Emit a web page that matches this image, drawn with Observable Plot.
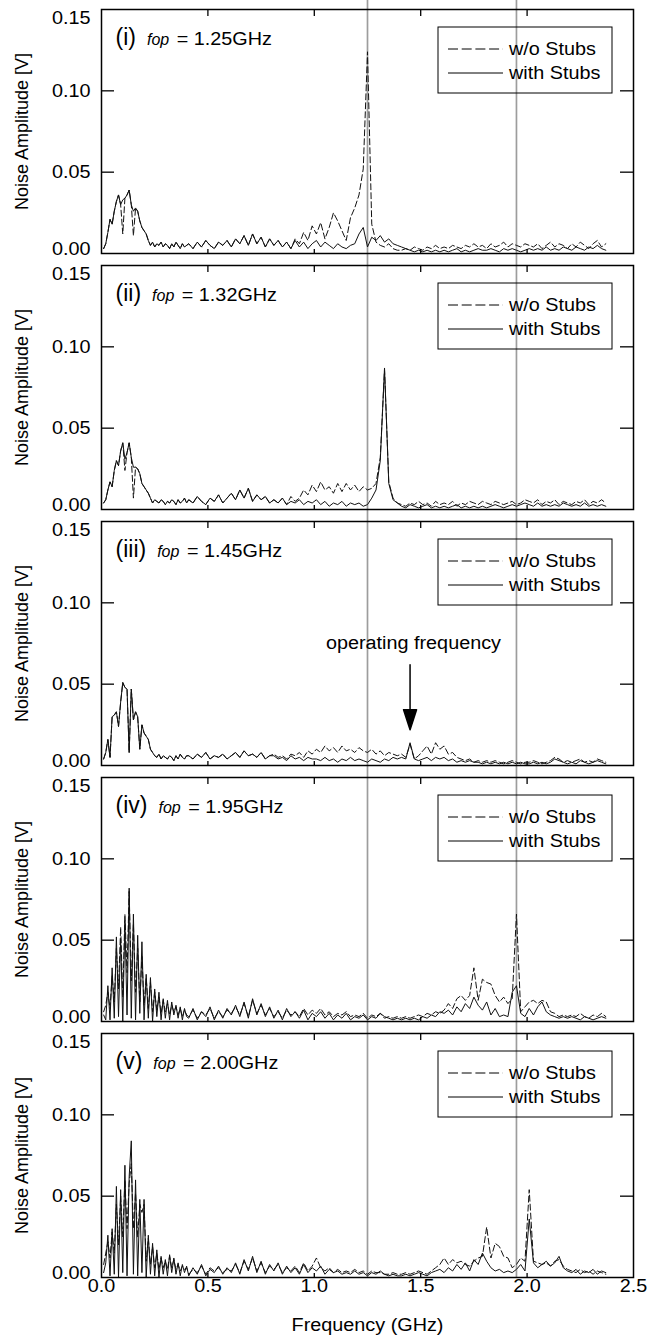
<!DOCTYPE html>
<html><head><meta charset="utf-8">
<script src="https://cdn.jsdelivr.net/npm/d3@7"></script>
<script src="https://cdn.jsdelivr.net/npm/@observablehq/plot@0.6"></script>
<style>
body{margin:0;background:#fff;}
#chart{width:647px;}
#chart svg{display:block;}
</style></head><body><div id="chart"></div>
<script>
// ---------- data ----------
const freq = [
0.01,0.02,0.03,0.04,0.05,0.06,0.07,0.08,0.09,0.10,
0.11,0.12,0.13,0.14,0.15,0.16,0.17,0.18,0.19,0.20,
0.21,0.22,0.23,0.24,0.25,0.26,0.27,0.28,0.29,0.30,
0.31,0.32,0.33,0.34,0.35,0.36,0.37,0.38,0.39,0.40,
0.41,0.43,0.45,0.47,0.49,0.51,0.53,0.55,0.57,0.59,
0.61,0.63,0.65,0.67,0.69,0.71,0.73,0.75,0.77,0.79,
0.81,0.83,0.85,0.87,0.89,0.91,0.93,0.95,0.97,0.99,
1.01,1.03,1.05,1.07,1.09,1.11,1.13,1.15,1.17,1.19,
1.21,1.23,1.25,1.27,1.29,1.31,1.33,1.35,1.37,1.39,
1.41,1.43,1.45,1.47,1.49,1.51,1.53,1.55,1.57,1.59,
1.61,1.63,1.65,1.67,1.69,1.71,1.73,1.75,1.77,1.79,
1.81,1.83,1.85,1.87,1.89,1.91,1.93,1.95,1.97,1.99,
2.01,2.03,2.05,2.07,2.09,2.11,2.13,2.15,2.17,2.19,
2.21,2.23,2.25,2.27,2.29,2.31,2.33,2.35,2.37];

const panelIds = ["(i)","(ii)","(iii)","(iv)","(v)"];
const fopValues = ["1.25GHz","1.32GHz","1.45GHz","1.95GHz","2.00GHz"];
const seriesNames = ["w/o Stubs","with Stubs"];
const yTicks = [0, 0.05, 0.10, 0.15];
const yTickLabels = ["0.00","0.05","0.10","0.15"];
const xTicks = [0, 0.5, 1.0, 1.5, 2.0, 2.5];
const xTickLabels = ["0.0","0.5","1.0","1.5","2.0","2.5"];
const refLines = [1.25, 1.95];
const xLabel = "Frequency (GHz)";
const yLabel = "Noise Amplitude [V]";
const annotation = [{panel: 2, text: "operating frequency", f: 1.45, textF: 1.466, textV: 0.075, tipV: 0.022}];

// panel (i)
const p1Without = [
0.003,0.006,0.013,0.021,0.018,0.026,0.032,0.036,0.030,0.012,
0.034,0.036,0.039,0.030,0.011,0.028,0.026,0.020,0.016,0.014,
0.012,0.008,0.005,0.007,0.004,0.006,0.005,0.007,0.004,0.006,
0.005,0.003,0.006,0.004,0.007,0.005,0.003,0.006,0.004,0.005,
0.006,0.003,0.007,0.004,0.008,0.005,0.003,0.007,0.005,0.008,
0.004,0.009,0.006,0.011,0.005,0.012,0.006,0.010,0.004,0.009,
0.005,0.008,0.004,0.007,0.003,0.009,0.006,0.013,0.008,0.017,
0.012,0.019,0.009,0.016,0.025,0.020,0.014,0.008,0.022,0.028,
0.036,0.052,0.124,0.018,0.007,0.005,0.004,0.006,0.003,0.002,
0.002,0.003,0.002,0.004,0.003,0.002,0.004,0.003,0.005,0.003,
0.004,0.003,0.005,0.004,0.003,0.005,0.004,0.006,0.004,0.005,
0.003,0.006,0.004,0.005,0.007,0.004,0.006,0.005,0.004,0.006,
0.005,0.004,0.006,0.003,0.005,0.007,0.004,0.006,0.005,0.003,
0.006,0.004,0.007,0.005,0.003,0.006,0.008,0.004,0.006];
const p1With = [
0.003,0.006,0.013,0.021,0.018,0.026,0.032,0.036,0.030,0.033,
0.034,0.036,0.039,0.030,0.026,0.028,0.026,0.020,0.016,0.014,
0.012,0.008,0.005,0.007,0.004,0.006,0.005,0.007,0.004,0.006,
0.005,0.003,0.006,0.004,0.007,0.005,0.003,0.006,0.004,0.005,
0.006,0.003,0.007,0.004,0.008,0.005,0.003,0.007,0.005,0.008,
0.004,0.009,0.006,0.011,0.005,0.012,0.006,0.010,0.004,0.009,
0.005,0.008,0.004,0.007,0.003,0.008,0.004,0.007,0.003,0.006,
0.008,0.004,0.007,0.005,0.003,0.006,0.004,0.003,0.005,0.006,
0.012,0.016,0.004,0.010,0.008,0.011,0.007,0.009,0.006,0.005,
0.004,0.003,0.002,0.001,0.002,0.001,0.002,0.001,0.002,0.001,
0.002,0.001,0.002,0.003,0.001,0.002,0.001,0.002,0.003,0.002,
0.002,0.003,0.002,0.001,0.003,0.002,0.003,0.002,0.001,0.002,
0.003,0.002,0.003,0.002,0.004,0.002,0.003,0.002,0.004,0.003,
0.002,0.004,0.003,0.002,0.004,0.003,0.005,0.003,0.002];

// panel (ii)
const p2Without = [
0.004,0.006,0.012,0.017,0.014,0.024,0.030,0.027,0.036,0.041,
0.024,0.035,0.041,0.032,0.007,0.026,0.025,0.022,0.016,0.014,
0.012,0.010,0.007,0.004,0.006,0.005,0.004,0.006,0.005,0.003,
0.005,0.004,0.006,0.005,0.003,0.006,0.004,0.005,0.007,0.004,
0.006,0.004,0.008,0.005,0.003,0.007,0.005,0.009,0.004,0.007,
0.010,0.006,0.012,0.007,0.013,0.005,0.009,0.006,0.008,0.004,
0.006,0.004,0.007,0.003,0.008,0.005,0.007,0.012,0.009,0.015,
0.011,0.017,0.012,0.014,0.010,0.016,0.011,0.016,0.012,0.015,
0.011,0.014,0.012,0.013,0.016,0.032,0.086,0.017,0.007,0.004,
0.003,0.002,0.004,0.003,0.005,0.003,0.004,0.002,0.005,0.003,
0.004,0.003,0.005,0.002,0.004,0.003,0.005,0.004,0.003,0.005,
0.004,0.003,0.005,0.004,0.003,0.004,0.005,0.003,0.004,0.006,
0.005,0.004,0.006,0.003,0.005,0.004,0.006,0.003,0.005,0.004,
0.003,0.005,0.004,0.006,0.003,0.005,0.004,0.006,0.004];
const p2With = [
0.004,0.006,0.012,0.017,0.014,0.024,0.030,0.027,0.036,0.041,
0.031,0.035,0.041,0.032,0.026,0.026,0.025,0.022,0.016,0.014,
0.012,0.010,0.007,0.004,0.006,0.005,0.004,0.006,0.005,0.003,
0.005,0.004,0.006,0.005,0.003,0.006,0.004,0.005,0.007,0.004,
0.006,0.004,0.008,0.005,0.003,0.007,0.005,0.009,0.004,0.007,
0.010,0.006,0.012,0.007,0.013,0.005,0.009,0.006,0.008,0.004,
0.006,0.004,0.007,0.003,0.005,0.004,0.006,0.003,0.005,0.004,
0.006,0.003,0.005,0.002,0.004,0.003,0.005,0.002,0.004,0.003,
0.004,0.002,0.003,0.007,0.012,0.030,0.087,0.016,0.006,0.004,
0.002,0.001,0.003,0.002,0.001,0.002,0.003,0.001,0.002,0.001,
0.002,0.001,0.002,0.003,0.001,0.002,0.001,0.002,0.001,0.002,
0.001,0.002,0.003,0.002,0.001,0.002,0.003,0.002,0.003,0.004,
0.003,0.002,0.004,0.002,0.003,0.002,0.003,0.002,0.004,0.003,
0.002,0.003,0.002,0.004,0.002,0.003,0.002,0.003,0.002];

// panel (iii)
const p3Without = [
0.004,0.008,0.016,0.005,0.030,0.031,0.033,0.024,0.039,0.051,
0.048,0.047,0.008,0.047,0.028,0.033,0.030,0.010,0.025,0.020,
0.018,0.016,0.010,0.008,0.006,0.005,0.007,0.004,0.006,0.005,
0.004,0.006,0.005,0.003,0.006,0.004,0.007,0.005,0.004,0.006,
0.006,0.004,0.007,0.005,0.008,0.004,0.006,0.005,0.007,0.004,
0.006,0.008,0.005,0.009,0.006,0.007,0.005,0.008,0.004,0.006,
0.007,0.005,0.006,0.004,0.007,0.006,0.008,0.005,0.009,0.007,
0.010,0.008,0.012,0.009,0.011,0.008,0.012,0.009,0.010,0.008,
0.011,0.009,0.008,0.010,0.007,0.009,0.006,0.008,0.007,0.006,
0.007,0.005,0.013,0.004,0.006,0.009,0.012,0.007,0.014,0.010,
0.012,0.007,0.008,0.005,0.004,0.003,0.004,0.002,0.003,0.002,
0.003,0.002,0.003,0.002,0.001,0.002,0.003,0.002,0.001,0.002,
0.002,0.003,0.002,0.001,0.002,0.003,0.005,0.004,0.002,0.003,
0.002,0.003,0.004,0.002,0.003,0.002,0.004,0.003,0.002];
const p3With = [
0.004,0.008,0.016,0.005,0.030,0.031,0.033,0.024,0.039,0.051,
0.048,0.047,0.008,0.047,0.028,0.033,0.030,0.010,0.025,0.020,
0.018,0.016,0.010,0.008,0.006,0.005,0.007,0.004,0.006,0.005,
0.004,0.006,0.005,0.003,0.006,0.004,0.007,0.005,0.004,0.006,
0.006,0.004,0.007,0.005,0.008,0.004,0.006,0.005,0.007,0.004,
0.006,0.008,0.005,0.009,0.006,0.007,0.005,0.008,0.004,0.006,
0.006,0.004,0.005,0.003,0.006,0.004,0.005,0.003,0.005,0.004,
0.004,0.003,0.005,0.003,0.004,0.002,0.004,0.003,0.005,0.003,
0.004,0.003,0.002,0.004,0.003,0.002,0.004,0.003,0.005,0.004,
0.005,0.004,0.014,0.004,0.003,0.004,0.005,0.003,0.005,0.004,
0.005,0.003,0.004,0.002,0.003,0.002,0.003,0.002,0.002,0.001,
0.002,0.001,0.002,0.001,0.002,0.001,0.002,0.001,0.002,0.001,
0.001,0.002,0.001,0.002,0.001,0.002,0.004,0.003,0.002,0.001,
0.002,0.001,0.003,0.002,0.001,0.002,0.003,0.002,0.001];

// panel (iv)
const p4Without = [
0.006,0.010,0.018,0.008,0.028,0.012,0.045,0.020,0.058,0.015,
0.066,0.030,0.080,0.025,0.060,0.018,0.045,0.012,0.040,0.010,
0.027,0.008,0.024,0.006,0.018,0.007,0.015,0.005,0.013,0.006,
0.011,0.004,0.010,0.006,0.009,0.004,0.008,0.003,0.007,0.004,
0.003,0.007,0.002,0.006,0.004,0.008,0.002,0.006,0.003,0.007,
0.005,0.009,0.004,0.011,0.003,0.013,0.005,0.010,0.004,0.008,
0.003,0.006,0.002,0.007,0.004,0.006,0.003,0.008,0.004,0.007,
0.005,0.008,0.004,0.006,0.003,0.005,0.004,0.006,0.003,0.004,
0.003,0.005,0.002,0.004,0.003,0.005,0.002,0.003,0.002,0.003,
0.002,0.003,0.002,0.003,0.004,0.003,0.005,0.004,0.006,0.005,
0.007,0.011,0.008,0.014,0.016,0.013,0.016,0.033,0.013,0.026,
0.024,0.023,0.016,0.012,0.015,0.011,0.014,0.066,0.006,0.009,
0.012,0.013,0.011,0.013,0.012,0.006,0.005,0.003,0.004,0.003,
0.004,0.003,0.005,0.003,0.002,0.004,0.003,0.005,0.003];
const p4With = [
0.004,0.001,0.022,0.001,0.033,0.002,0.052,0.003,0.051,0.000,
0.062,0.004,0.082,0.002,0.066,0.001,0.053,0.005,0.049,0.001,
0.029,0.002,0.027,0.000,0.020,0.003,0.018,0.001,0.014,0.002,
0.013,0.001,0.012,0.004,0.010,0.002,0.009,0.001,0.008,0.003,
0.002,0.008,0.001,0.006,0.003,0.009,0.001,0.007,0.002,0.008,
0.004,0.010,0.003,0.012,0.002,0.014,0.004,0.011,0.003,0.009,
0.002,0.007,0.001,0.008,0.003,0.006,0.002,0.007,0.001,0.005,
0.003,0.006,0.002,0.005,0.001,0.004,0.002,0.005,0.001,0.003,
0.002,0.004,0.001,0.003,0.002,0.005,0.003,0.002,0.001,0.002,
0.001,0.002,0.001,0.002,0.001,0.003,0.002,0.004,0.003,0.006,
0.005,0.007,0.004,0.009,0.006,0.011,0.008,0.015,0.010,0.007,
0.012,0.004,0.008,0.003,0.004,0.003,0.018,0.022,0.005,0.003,
0.008,0.004,0.009,0.012,0.006,0.004,0.003,0.002,0.003,0.002,
0.003,0.002,0.001,0.003,0.002,0.001,0.002,0.003,0.002];

// panel (v)
const p5Without = [
0.008,0.015,0.022,0.012,0.028,0.015,0.045,0.020,0.050,0.025,
0.060,0.030,0.058,0.070,0.030,0.052,0.025,0.045,0.040,0.045,
0.010,0.024,0.008,0.019,0.006,0.015,0.005,0.012,0.006,0.010,
0.005,0.013,0.006,0.011,0.005,0.008,0.004,0.007,0.005,0.006,
0.002,0.005,0.003,0.007,0.002,0.006,0.004,0.006,0.003,0.005,
0.004,0.008,0.003,0.010,0.005,0.012,0.004,0.009,0.003,0.007,
0.005,0.008,0.003,0.006,0.004,0.007,0.003,0.009,0.004,0.007,
0.012,0.006,0.004,0.006,0.003,0.005,0.003,0.004,0.003,0.005,
0.003,0.004,0.002,0.004,0.003,0.003,0.002,0.002,0.003,0.002,
0.002,0.003,0.002,0.003,0.004,0.003,0.002,0.004,0.006,0.008,
0.012,0.008,0.011,0.009,0.010,0.008,0.007,0.010,0.012,0.013,
0.031,0.012,0.021,0.019,0.013,0.012,0.006,0.008,0.012,0.010,
0.054,0.010,0.009,0.008,0.009,0.007,0.010,0.011,0.007,0.005,
0.004,0.003,0.005,0.003,0.004,0.002,0.004,0.003,0.002];
const p5With = [
0.003,0.009,0.026,0.001,0.030,0.002,0.056,0.000,0.054,0.003,
0.069,0.001,0.062,0.084,0.002,0.060,0.001,0.048,0.003,0.048,
0.000,0.026,0.002,0.021,0.001,0.017,0.000,0.013,0.002,0.011,
0.001,0.014,0.003,0.012,0.002,0.009,0.001,0.008,0.003,0.007,
0.001,0.006,0.002,0.008,0.001,0.005,0.003,0.007,0.002,0.006,
0.003,0.009,0.002,0.011,0.004,0.013,0.003,0.010,0.002,0.008,
0.004,0.009,0.002,0.007,0.003,0.006,0.002,0.008,0.003,0.006,
0.004,0.007,0.002,0.005,0.003,0.004,0.002,0.003,0.002,0.004,
0.002,0.003,0.001,0.003,0.002,0.004,0.002,0.001,0.002,0.001,
0.001,0.002,0.001,0.002,0.003,0.002,0.001,0.003,0.004,0.005,
0.003,0.006,0.004,0.008,0.005,0.009,0.004,0.011,0.008,0.015,
0.010,0.006,0.004,0.005,0.003,0.004,0.003,0.005,0.008,0.004,
0.036,0.009,0.006,0.008,0.010,0.007,0.009,0.013,0.006,0.004,
0.003,0.005,0.002,0.004,0.003,0.005,0.002,0.004,0.003];

const withoutSeries = [p1Without, p2Without, p3Without, p4Without, p5Without];
const withSeries = [p1With, p2With, p3With, p4With, p5With];
[...withoutSeries, ...withSeries].forEach((s, i) => {
  if (s.length !== freq.length) throw new Error("series " + i + " length " + s.length + " != " + freq.length);
});

// ---------- layout ----------
const W = 647, mL = 101, mR = 14, mT = 9, PH = 244;
const FW = W - mL - mR;
const FONT = "'Liberation Sans', Arial, Helvetica, sans-serif";
const STRETCH = 1.1;
const container = document.getElementById("chart");

function stretchEl(el) {
  const len = el.getComputedTextLength();
  if (len > 0) {
    el.setAttribute("textLength", (len * STRETCH).toFixed(1));
    el.setAttribute("lengthAdjust", "spacingAndGlyphs");
  }
}

function drawPanel(k) {
  const last = k === withoutSeries.length - 1;
  const height = last ? 316 : 256;
  const mB = height - mT - PH;
  const dashData = freq.map((f, i) => ({f, v: withoutSeries[k][i]}));
  const solidData = freq.map((f, i) => ({f, v: withSeries[k][i]}));
  const tickObjs = yTicks.map((v, i) => ({v, label: yTickLabels[i]}));
  const innerY = tickObjs.slice(1, 3);
  const innerX = xTicks.slice(1, 5);
  const labelStr = panelIds[k] + "|" + fopValues[k];
  const ann = annotation.filter(a => a.panel === k);

  const arrowShape = {
    draw(context, l) {
      context.moveTo(0, 0);
      context.lineTo(0, -l + 18);
      context.moveTo(-6.5, -l + 20);
      context.lineTo(0, -l);
      context.lineTo(6.5, -l + 20);
      context.closePath();
    }
  };

  const marks = [
    Plot.ruleX(refLines, {x: d => d, stroke: "#9d9d9d", strokeWidth: 1.7,
      insetTop: -mT, insetBottom: last ? 0 : -mB}),
    Plot.line(dashData, {x: "f", y: "v", stroke: "#111", strokeWidth: 1, strokeDasharray: "6,3"}),
    Plot.line(solidData, {x: "f", y: "v", stroke: "#111", strokeWidth: 1}),
    Plot.frame({stroke: "black", strokeWidth: 1.5}),
    Plot.tickY(innerY, {y: "v", insetRight: FW - 13, stroke: "black", strokeWidth: 1.3}),
    Plot.tickY(innerY, {y: "v", insetLeft: FW - 13, stroke: "black", strokeWidth: 1.3}),
    Plot.tickX(innerX, {x: d => d, insetBottom: PH - 7, stroke: "black", strokeWidth: 1.3}),
    Plot.tickX(innerX, {x: d => d, insetTop: PH - 4, stroke: "black", strokeWidth: 1.3}),
    Plot.text(innerY, {y: "v", text: "label", frameAnchor: "left", dx: -11, textAnchor: "end", fontSize: 18}),
    Plot.text([tickObjs[3]], {y: "v", text: "label", frameAnchor: "left", dx: -11, dy: 9, textAnchor: "end", fontSize: 18}),
    Plot.text([tickObjs[0]], {y: "v", text: "label", frameAnchor: "left", dx: -11, dy: -4, textAnchor: "end", fontSize: 18}),
    Plot.text([yLabel], {text: d => d, frameAnchor: "left", dx: -79, rotate: -90, textAnchor: "middle", lineAnchor: "middle", fontSize: 18}),
    Plot.text([labelStr], {text: d => d, frameAnchor: "top-left", dx: 14, dy: 28, textAnchor: "start", lineAnchor: "middle", fontSize: 23})
  ];
  if (ann.length) {
    marks.push(Plot.text(ann, {x: "textF", y: "textV", text: "text", fontSize: 18}));
    marks.push(Plot.vector(ann, {x: "f", y: "tipV", length: 65, anchor: "end", rotate: 180,
      shape: arrowShape, stroke: "black", fill: "black", strokeWidth: 1.5}));
  }
  if (last) {
    const xObjs = xTicks.map((v, i) => ({v, label: xTickLabels[i]}));
    marks.push(Plot.text(xObjs, {x: "v", text: "label", frameAnchor: "bottom", lineAnchor: "top", dy: 2, fontSize: 18}));
    marks.push(Plot.text([xLabel], {text: d => d, frameAnchor: "bottom", lineAnchor: "middle", dy: 48, fontSize: 18}));
  }

  const svg = Plot.plot({
    width: W, height,
    marginLeft: mL, marginRight: mR, marginTop: mT, marginBottom: mB,
    x: {domain: [0, 2.5], axis: null},
    y: {domain: [0, 0.15], axis: null},
    style: {fontFamily: FONT, fontSize: "18px", color: "black", background: "white", overflow: "visible"},
    marks
  });
  container.appendChild(svg);

  // legend
  const lg = d3.select(svg).append("g").attr("font-family", FONT).attr("font-size", 18).attr("text-anchor", "start");
  lg.append("rect").attr("x", 438).attr("y", mT + 18).attr("width", 174).attr("height", 66)
    .attr("fill", "none").attr("stroke", "black").attr("stroke-width", 1);
  seriesNames.forEach((name, j) => {
    const yy = mT + 40 + j * 24;
    lg.append("line").attr("x1", 448).attr("x2", 503).attr("y1", yy).attr("y2", yy)
      .attr("stroke", "black").attr("stroke-width", 1)
      .attr("stroke-dasharray", j === 0 ? "10,3.7" : null);
    lg.append("text").attr("x", 509).attr("y", yy).attr("dy", "0.36em").attr("fill", "black").text(name);
  });

  // stretch horizontal texts a little (reference glyphs are wide)
  svg.querySelectorAll("text").forEach(t => {
    if (t.textContent === labelStr || t.textContent === yLabel) return;
    stretchEl(t);
  });

  // panel label with italic f_op
  const lt = [...svg.querySelectorAll("text")].find(e => e.textContent === labelStr);
  if (lt) {
    const parts = labelStr.split("|");
    const sel = d3.select(lt);
    sel.text(null);
    sel.append("tspan").attr("font-size", 23).text(parts[0]);
    sel.append("tspan").attr("dx", 11).attr("font-size", 16).attr("font-style", "italic").text("f");
    sel.append("tspan").attr("font-size", 16).attr("font-style", "italic").text("op");
    const tail = sel.append("tspan").attr("font-size", 18).attr("dx", 2).text(" = " + parts[1]);
    stretchEl(tail.node());
  }
}

for (let k = 0; k < withoutSeries.length; k++) drawPanel(k);
</script>
</body></html>
